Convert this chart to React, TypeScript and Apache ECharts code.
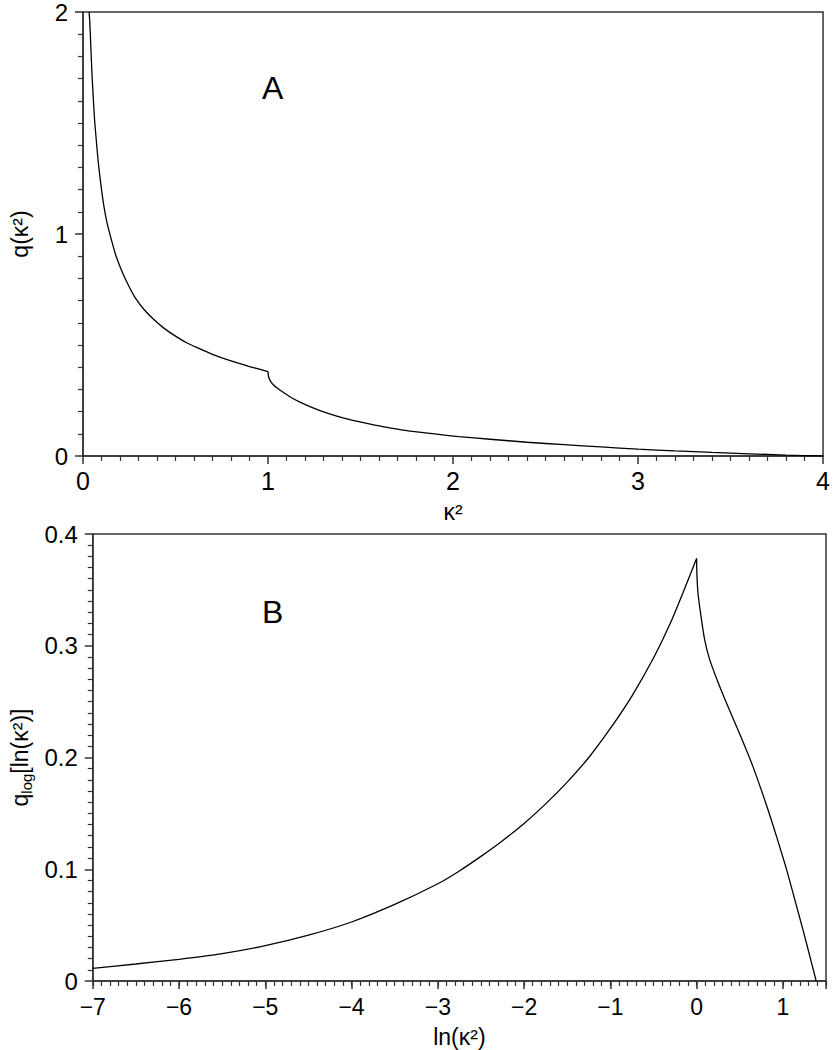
import React, { useEffect, useRef } from "react";
import * as echarts from "echarts";

// Panel A: q(kappa^2), branch below and above the cusp at kappa^2 = 1
const kappaSqA_low = [0.033, 0.037, 0.042, 0.048, 0.055, 0.063, 0.072, 0.083, 0.097, 0.112, 0.13, 0.15, 0.175, 0.204, 0.24, 0.28, 0.33, 0.38, 0.437, 0.5, 0.56, 0.617, 0.7, 0.8, 0.9, 1.0];
const qA_low = [2.0, 1.95, 1.85, 1.73, 1.62, 1.51, 1.42, 1.32, 1.22, 1.13, 1.05, 0.985, 0.91, 0.845, 0.778, 0.716, 0.66, 0.617, 0.576, 0.54, 0.51, 0.488, 0.458, 0.428, 0.403, 0.38];
const kappaSqA_high = [1.0, 1.002, 1.006, 1.015, 1.03, 1.05, 1.08, 1.12, 1.17, 1.24, 1.32, 1.42, 1.51, 1.62, 1.75, 1.9, 2.03, 2.2, 2.4, 2.6, 2.8, 3.0, 3.2, 3.4, 3.6, 3.8, 4.0];
const qA_high = [0.38, 0.362, 0.35, 0.335, 0.32, 0.306, 0.288, 0.266, 0.244, 0.218, 0.193, 0.168, 0.151, 0.132, 0.114, 0.0995, 0.0875, 0.0755, 0.062, 0.051, 0.041, 0.031, 0.023, 0.016, 0.01, 0.004, 0.0];

// Panel B: q_log[ln(kappa^2)], branch below and above the cusp at ln(kappa^2) = 0
const lnKappaSqB_low = [-7.0, -6.5, -6.0, -5.5, -5.0, -4.5, -4.0, -3.5, -3.0, -2.75, -2.5, -2.25, -2.0, -1.75, -1.5, -1.25, -1.0, -0.75, -0.5, -0.3, -0.15, 0.0];
const qB_low = [0.0113, 0.0152, 0.0194, 0.0245, 0.0316, 0.041, 0.0528, 0.0685, 0.087, 0.0985, 0.1115, 0.1255, 0.141, 0.1585, 0.178, 0.2, 0.226, 0.255, 0.289, 0.321, 0.349, 0.378];
const lnKappaSqB_high = [0.0, 0.003, 0.016, 0.05, 0.092, 0.15, 0.245, 0.35, 0.511, 0.65, 0.816, 0.93, 1.044, 1.15, 1.234, 1.31, 1.386];
const qB_high = [0.378, 0.365, 0.347, 0.327, 0.306, 0.288, 0.268, 0.248, 0.219, 0.1925, 0.156, 0.1285, 0.0995, 0.0695, 0.0455, 0.023, 0.0];

const FONT = "'Liberation Sans', Arial, Helvetica, sans-serif";
const AXIS_COLOR = "#333";

export default function App() {
  const ref = useRef<HTMLDivElement>(null);

  useEffect(() => {
    if (!ref.current) return;
    const chart = echarts.init(ref.current, undefined, { renderer: "svg" });

    const pairs = (xs: number[], ys: number[]) => xs.map((x, i) => [x, ys[i]]);

    const minusFmt = (v: number) => {
      if (Math.abs(v - Math.round(v)) > 1e-9) return "";
      return String(Math.round(v)).replace("-", "\u2212");
    };

    const axisLine = { show: true, onZero: false, lineStyle: { color: AXIS_COLOR, width: 1.5 } };
    const majorTick = { show: true, length: 8, lineStyle: { color: AXIS_COLOR, width: 1.5 } };
    const minorTick = { show: true, splitNumber: 10, length: 5, lineStyle: { color: AXIS_COLOR, width: 1.2 } };
    const lineSeries = (xi: number, yi: number, data: number[][]) => ({
      type: "line", xAxisIndex: xi, yAxisIndex: yi, data, showSymbol: false,
      smooth: 0.2,
      lineStyle: { color: "#000", width: 1.3 }, silent: true,
    });

    chart.setOption({
      animation: false,
      backgroundColor: "#fff",
      grid: [
        { left: 82, top: 9, width: 744, height: 447, show: true, borderColor: AXIS_COLOR, borderWidth: 1.5, backgroundColor: "transparent" },
        { left: 82, top: 534, width: 744, height: 447, show: true, borderColor: AXIS_COLOR, borderWidth: 1.5, backgroundColor: "transparent" },
      ],
      xAxis: [
        {
          type: "value", gridIndex: 0, min: 0, max: 4, interval: 1,
          axisLine, splitLine: { show: false }, axisTick: majorTick, minorTick,
          axisLabel: { fontSize: 25, color: "#000", fontFamily: FONT, margin: 12 },
          name: "\u03ba\u00b2", nameLocation: "middle", nameGap: 44,
          nameTextStyle: { fontSize: 23, color: "#000", fontFamily: FONT },
        },
        {
          type: "value", gridIndex: 1, min: -7, max: 1.5, interval: 1,
          axisLine, splitLine: { show: false }, axisTick: majorTick,
          axisLabel: { fontSize: 23, color: "#000", fontFamily: FONT, margin: 14, formatter: minusFmt },
          name: "ln(\u03ba\u00b2)", nameLocation: "middle", nameGap: 44,
          nameTextStyle: { fontSize: 23, color: "#000", fontFamily: FONT },
        },
        {
          type: "value", gridIndex: 1, min: -7, max: 1.5, interval: 0.1, position: "bottom",
          axisLine: { show: false, onZero: false }, splitLine: { show: false },
          axisTick: { show: true, length: 5, lineStyle: { color: AXIS_COLOR, width: 1.2 } },
          axisLabel: { show: false },
        },
      ],
      yAxis: [
        {
          type: "value", gridIndex: 0, min: 0, max: 2, interval: 1,
          axisLine, splitLine: { show: false }, axisTick: majorTick, minorTick,
          axisLabel: { fontSize: 24, color: "#000", fontFamily: FONT, margin: 15 },
          name: "q(\u03ba\u00b2)", nameLocation: "middle", nameGap: 52, nameRotate: 90,
          nameTextStyle: { fontSize: 23, color: "#000", fontFamily: FONT },
        },
        {
          type: "value", gridIndex: 1, min: 0, max: 0.4, interval: 0.1,
          axisLine, splitLine: { show: false }, axisTick: majorTick, minorTick,
          axisLabel: { fontSize: 24, color: "#000", fontFamily: FONT, margin: 15 },
          name: "{a|q}{s|log}{a|[ln(\u03ba\u00b2)]}", nameLocation: "middle", nameGap: 52, nameRotate: 90,
          nameTextStyle: {
            fontSize: 23, color: "#000", fontFamily: FONT,
            rich: {
              a: { fontSize: 23, color: "#000", fontFamily: FONT, lineHeight: 28 },
              s: { fontSize: 15, color: "#000", fontFamily: FONT, verticalAlign: "bottom", lineHeight: 28, padding: [9, 0, 0, 0] },
            },
          },
        },
      ],
      series: [
        lineSeries(0, 0, pairs(kappaSqA_low, qA_low)),
        lineSeries(0, 0, pairs(kappaSqA_high, qA_high)),
        lineSeries(1, 1, pairs(lnKappaSqB_low, qB_low)),
        lineSeries(1, 1, pairs(lnKappaSqB_high, qB_high)),
      ],
      graphic: [
        { type: "text", left: 262, top: 72, style: { text: "A", fontSize: 32, fill: "#000", fontFamily: FONT } },
        { type: "text", left: 262, top: 596, style: { text: "B", fontSize: 32, fill: "#000", fontFamily: FONT } },
      ],
    });

    return () => chart.dispose();
  }, []);

  return (
    <div
      ref={ref}
      style={{ position: "absolute", left: 0, top: 0, width: 833, height: 1050, background: "#fff" }}
    />
  );
}
